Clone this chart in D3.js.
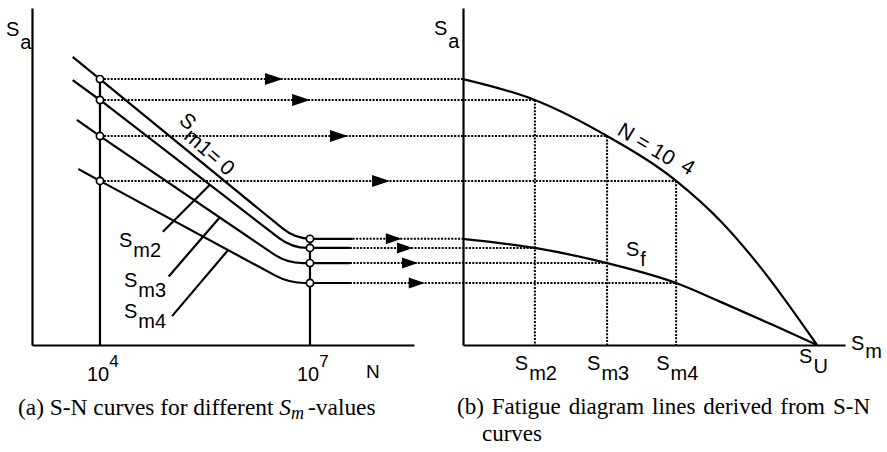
<!DOCTYPE html>
<html><head><meta charset="utf-8">
<script src="https://cdn.jsdelivr.net/npm/d3@7"></script>
<style>body{margin:0;background:#fff} svg{display:block}</style>
</head><body>
<script>
// ---------- data ----------
const curveNames = ["m1", "m2", "m3", "m4"];
const smValues = [0, 20.3, 40.7, 60.2];          // mean stress of each S-N curve
const startLogN = [3.61, 3.61, 3.67, 3.69];
const saStart = [85.5, 78.6, 66.8, 52.2];
const saAt1e4 = [78.9, 72.7, 62.0, 48.7];        // S_a at N = 10^4
const kneeLogN = [6.79, 6.74, 6.67, 6.70];
const saEndurance = [31.5, 28.8, 24.3, 18.4];    // S_a at N = 10^7 (S_f)
const endLogN = [7.61, 7.57, 7.57, 7.57];
const logNTicks = [4, 7];
const logNTickSup = ["4", "7"];
const sU = 100;
const n1e4ExtraSm = [73, 84];
const n1e4ExtraSa = [36.5, 23.1];
const sfExtraSm = [73.4, 87.6];
const sfExtraSa = [12.5, 5.9];
const arrowUpperFrac = [0.504, 0.579, 0.683, 0.799];
const arrowLowerFrac = [0.60, 0.673, 0.706, 0.75];
const leaderLogN = [null, 5.57, 5.71, 5.83];
const smTickSubs = ["m2", "m3", "m4"];

// ---------- setup ----------
const W = 887, H = 452;
const svg = d3.select("body").append("svg").attr("width", W).attr("height", H);
const xL = d3.scaleLinear().domain([3.029, 8.486]).range([32, 414]);
const y = d3.scaleLinear().domain([0, 100]).range([345, 8]);
const xR = d3.scaleLinear().domain([0, 107.9]).range([463, 845]);
const SANS = "'Liberation Sans', Arial, Helvetica, sans-serif";
const SERIF = "'Liberation Serif', 'Times New Roman', serif";
const dot = "2,1.4";

// axes
function styleAxis(g) { g.select(".domain").attr("stroke", "#000").attr("stroke-width", 2.2); }
svg.append("g").attr("transform", `translate(0,${y(0)})`)
  .call(d3.axisBottom(xL).tickValues([]).tickSizeOuter(0)).call(styleAxis);
svg.append("g").attr("transform", `translate(${xL.range()[0]},0)`)
  .call(d3.axisLeft(y).tickValues([]).tickSizeOuter(0)).call(styleAxis);
svg.append("g").attr("transform", `translate(0,${y(0)})`)
  .call(d3.axisBottom(xR).tickValues([]).tickSizeOuter(0)).call(styleAxis);
svg.append("g").attr("transform", `translate(${xR(0)},0)`)
  .call(d3.axisLeft(y.copy().domain([0, 101])).tickValues([]).tickSizeOuter(0)).call(styleAxis);

const gDot = svg.append("g").attr("fill", "none").attr("stroke", "#000").attr("stroke-width", 2).attr("stroke-dasharray", dot);
const gSolid = svg.append("g").attr("fill", "none").attr("stroke", "#000").attr("stroke-width", 2.2);

// right panel verticals
smValues.forEach((sm, i) => {
  if (i === 0) return;
  gDot.append("line").attr("x1", xR(sm)).attr("x2", xR(sm)).attr("y1", y(saAt1e4[i])).attr("y2", y(0));
});

// dotted horizontals + arrows
const arrows = [];
curveNames.forEach((n, i) => {
  const yy = y(saAt1e4[i]);
  gDot.append("line").attr("x1", xL(4) + 4).attr("x2", xR(smValues[i])).attr("y1", yy).attr("y2", yy);
  arrows.push([xL(4) + arrowUpperFrac[i] * (xR(0) - xL(4)), yy, 18, 6]);
  const y2 = y(saEndurance[i]);
  gDot.append("line").attr("x1", xL(endLogN[i])).attr("x2", xR(smValues[i])).attr("y1", y2).attr("y2", y2);
  arrows.push([xL(7) + arrowLowerFrac[i] * (xR(0) - xL(7)), y2, 16, 5.5]);
});
svg.append("g").selectAll("path").data(arrows).join("path")
  .attr("d", d => `M${d[0]},${d[1]}L${d[0] - d[2]},${d[1] - d[3]}L${d[0] - d[2]},${d[1] + d[3]}Z`)
  .attr("fill", "#000");

// vertical lines at 10^4 and 10^7
gSolid.append("line").attr("x1", xL(4)).attr("x2", xL(4)).attr("y1", y(saAt1e4[0])).attr("y2", y(0));
gSolid.append("line").attr("x1", xL(7)).attr("x2", xL(7)).attr("y1", y(saEndurance[0])).attr("y2", y(0));

// S-N curves
function lineY(i, logN) {
  const t = (logN - 4) / (kneeLogN[i] - 4);
  return saAt1e4[i] + t * (saEndurance[i] - saAt1e4[i]);
}
curveNames.forEach((n, i) => {
  const A = [xL(startLogN[i]), y(saStart[i])];
  const B = [xL(4), y(saAt1e4[i])];
  const K = [xL(kneeLogN[i]), y(saEndurance[i])];
  const E = [xL(endLogN[i]), y(saEndurance[i])];
  const r = 16;
  const dx = B[0] - K[0], dy = B[1] - K[1], len = Math.hypot(dx, dy);
  const p = d3.path();
  p.moveTo(A[0], A[1]); p.lineTo(B[0], B[1]);
  p.lineTo(K[0] + dx / len * r, K[1] + dy / len * r);
  p.quadraticCurveTo(K[0], K[1], K[0] + r, K[1]);
  p.lineTo(E[0], E[1]);
  gSolid.append("path").attr("d", p.toString());
});

// leader lines for labels
const leaderOffsets = [null, [-47, 47], [-51, 59], [-56, 66]];
curveNames.forEach((n, i) => {
  if (!leaderLogN[i]) return;
  const x1 = xL(leaderLogN[i]), y1 = y(lineY(i, leaderLogN[i]));
  gSolid.append("line").attr("x1", x1).attr("y1", y1)
    .attr("x2", x1 + leaderOffsets[i][0]).attr("y2", y1 + leaderOffsets[i][1]);
});

// fatigue diagram curves
const curveGen = d3.line().x(d => xR(d[0])).y(d => y(d[1])).curve(d3.curveMonotoneX);
const nCurve = smValues.map((s, i) => [s, saAt1e4[i]]).concat(n1e4ExtraSm.map((s, i) => [s, n1e4ExtraSa[i]]), [[sU, 0]]);
const sfCurve = smValues.map((s, i) => [s, saEndurance[i]]).concat(sfExtraSm.map((s, i) => [s, sfExtraSa[i]]), [[sU, 0]]);
gSolid.append("path").attr("d", curveGen(nCurve));
gSolid.append("path").attr("d", curveGen(sfCurve));

// circles
const circ = [];
curveNames.forEach((n, i) => {
  circ.push([xL(4), y(saAt1e4[i])]);
  circ.push([xL(7), y(saEndurance[i])]);
});
svg.append("g").selectAll("circle").data(circ).join("circle")
  .attr("cx", d => d[0]).attr("cy", d => d[1]).attr("r", 3.6)
  .attr("fill", "#fff").attr("stroke", "#000").attr("stroke-width", 1.7);

// ---------- text ----------
function sub(x, yb, main, s, size, dy) {
  const t = svg.append("text").attr("x", x).attr("y", yb)
    .attr("font-family", SANS).attr("font-size", size).attr("fill", "#000");
  t.append("tspan").text(main);
  t.append("tspan").attr("dx", 1).attr("dy", dy).text(s);
  return t;
}
sub(6, 36, "S", "a", 20, 13);
sub(434, 35, "S", "a", 20, 13);
// N tick labels
logNTicks.forEach((v, i) => {
  const t = svg.append("text").attr("x", xL(v) - 13).attr("y", 381)
    .attr("font-family", SANS).attr("font-size", 20);
  t.append("tspan").text("10");
  t.append("tspan").attr("dy", -14).attr("font-size", 17).text(logNTickSup[i]);
});
svg.append("text").attr("x", 366).attr("y", 378).attr("font-family", SANS).attr("font-size", 19).text("N");
// left curve labels
const leftLabelPos = [null, [119, 247], [124, 287], [124, 318]];
curveNames.forEach((n, i) => {
  if (!leftLabelPos[i]) return;
  sub(leftLabelPos[i][0], leftLabelPos[i][1], "S", n, 20, 10);
});
// rotated S_m1 = 0
{
  const t = svg.append("text").attr("transform", "translate(178,122) rotate(41)")
    .attr("font-family", SANS).attr("font-size", 21);
  t.append("tspan").text("S");
  t.append("tspan").attr("dy", 9).text(curveNames[0] + "= 0");
}
// rotated N = 10^4
{
  const t = svg.append("text").attr("transform", "translate(616,134) rotate(31)")
    .attr("font-family", SANS).attr("font-size", 21);
  t.append("tspan").text("N");
  t.append("tspan").attr("dx", 6).text("=");
  t.append("tspan").attr("dx", 6).text("10");
  t.append("tspan").attr("dx", 10).attr("dy", -2).text("4");
}
sub(626, 256, "S", "f", 20, 10);
// S_m tick labels
smTickSubs.forEach((s, i) => {
  sub(xR(smValues[i + 1]) - 20, 370, "S", s, 20, 10);
});
sub(xR(sU) - 18, 363, "S", "U", 20, 10);
sub(851, 350, "S", "m", 20, 8);

// captions
{
  const t = svg.append("text").attr("x", 18).attr("y", 415).attr("font-family", SERIF).attr("font-size", 23.4);
  t.append("tspan").text("(a) S-N curves for different ");
  t.append("tspan").attr("font-style", "italic").text("S");
  t.append("tspan").attr("font-style", "italic").attr("dy", 4).attr("font-size", 18).text("m");
  t.append("tspan").attr("dy", -4).attr("dx", 4).text("-values");
}
{
  const t = svg.append("text").attr("x", 457).attr("y", 414).attr("font-family", SERIF).attr("font-size", 23)
    .text("(b) Fatigue diagram lines derived from S-N");
  const w = t.node().getComputedTextLength();
  const target = 413;
  t.attr("word-spacing", (target - w) / 6);
}
svg.append("text").attr("x", 482).attr("y", 441).attr("font-family", SERIF).attr("font-size", 23)
  .text("curves");
</script>
</body></html>
